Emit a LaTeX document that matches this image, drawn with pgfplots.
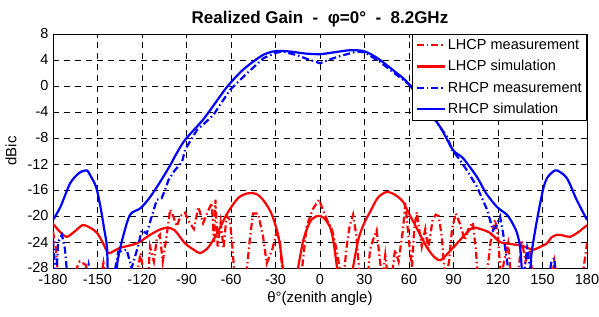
\documentclass[border=0pt]{standalone}
\usepackage{pgfplots}
\pgfplotsset{compat=1.18}
\usepackage{fontspec}
\setmainfont{Liberation Sans}
\begin{document}
\begin{tikzpicture}
\tikzset{dashdotm/.style={dash pattern=on 7pt off 3pt on 1.5pt off 3pt}}
\path[use as bounding box] (-53pt,-48pt) rectangle (546pt,268pt);
\begin{axis}[
  at={(0pt,0pt)}, anchor=south west,
  scale only axis, width=534pt, height=234pt,
  xmin=-180, xmax=180, ymin=-28, ymax=8,
  xtick={-180,-150,...,180}, ytick={-28,-24,...,8},
  /pgf/number format/assume math mode=true,
  tick label style={font=\fontsize{14.5}{16}\selectfont},
  xticklabel style={yshift=-3pt},
  yticklabel style={xshift=-1pt},
  tick align=inside, tick style={black, line width=0.5pt}, major tick length=4pt,
  grid=major, grid style={black, line width=0.6pt, dash pattern=on 6pt off 5pt},
  axis line style={black, line width=0.6pt},
  title={\bfseries Realized Gain\ \ -\ \ φ=0°\ \ -\ \ 8.2GHz},
  title style={font=\fontsize{17}{19}\selectfont, yshift=-3pt},
  xlabel={θ°(zenith angle)}, ylabel={dBic},
  xlabel style={font=\fontsize{15}{17}\selectfont, yshift=0pt},
  ylabel style={font=\fontsize{15}{17}\selectfont, yshift=4pt},
  legend style={at={(1,1)}, anchor=north east, draw=black, line width=0.6pt,
    font=\fontsize{14.5}{16}\selectfont, row sep=5.5pt, inner sep=3pt},
  legend cell align=left,
  legend image code/.code={\draw[#1, line width=2.2pt] (0pt,0pt) -- (28pt,0pt);},
]
% LHCP measurement
\addplot[red, line width=2.2pt, dashdotm] coordinates {
(-180,-22.4) (-178,-25) (-176.5,-30) (-168,-30) (-162,-27) (-158,-27.5) (-155,-30) (-148,-30) (-146,-27.2) (-144,-30)
(-124,-30) (-121,-25.7) (-118,-30) (-116,-30) (-114.6,-24.7) (-112,-27) (-110,-23.5) (-108,-22.9) (-106,-27) (-104,-24)
(-101,-19) (-99,-20) (-96.6,-21.6) (-94,-20) (-91,-19.5) (-88,-21) (-85,-22) (-82,-18.6) (-78.8,-21.1) (-76,-19.5)
(-73,-18) (-71.5,-24) (-70.5,-17.5) (-69,-24.7) (-67,-21) (-65,-25) (-63,-20) (-60.7,-20.6) (-59,-25) (-57.3,-30)
(-50,-30) (-47.5,-24) (-45.2,-19.6) (-41.8,-19.6) (-38.5,-23) (-35.9,-27.3) (-32,-25) (-29.2,-22.4) (-27,-24) (-24.9,-30)
(-13,-30) (-9,-21.6) (-5,-19) (-2.2,-18) (-0.5,-17.5) (1,-18.5) (3,-19.6) (5.5,-21) (8,-22) (11.2,-25.2) (14.6,-30)
(16.5,-28) (18,-24.7) (20,-21.5) (22.3,-19.8) (24.5,-23) (27,-30) (32,-30) (33.7,-25.2) (35.7,-23.7) (38.2,-22.2)
(40,-26) (42,-30) (44,-26) (46,-30) (48,-30) (50.6,-25.2) (53,-27) (56,-22) (57.5,-18) (60,-24) (62,-28) (63.5,-22)
(65.2,-19.4) (68.6,-24.7) (71,-22) (73,-25) (76,-20.5) (78,-19.8) (80,-20) (82,-23) (84.5,-30) (87,-27) (89,-22)
(91.5,-19.6) (94,-21) (97.7,-23.7) (100,-22) (103,-21) (105,-25) (106.6,-30) (112,-30) (115,-24) (118,-20.6) (120,-23)
(122,-30) (124,-27) (126.8,-24.2) (129,-30) (133,-30) (136,-23.7) (138.5,-27) (141.6,-25.2) (143.5,-30) (156,-30)
(158,-27) (160,-30) (176.5,-30) (180,-24.2)
};
\addlegendentry{LHCP measurement}
% LHCP simulation
\addplot[red, line width=2.2pt, smooth] coordinates {
(-180,-21.2) (-175,-22.5) (-170.6,-23.2) (-165,-22.3) (-160,-21.4) (-155,-21.8) (-150.3,-22.6) (-146,-24.3) (-142.9,-25.7)
(-139,-25.4) (-134.8,-24.9) (-123.4,-24.2) (-114.6,-22.9) (-108,-22.1) (-103,-21.8) (-98,-22.2) (-91,-24.2) (-85,-25.2)
(-80.9,-25.7) (-76,-25) (-72,-23.7) (-67,-21.6) (-62,-19.4) (-55,-17.2) (-48.5,-16.5) (-43,-16.6) (-38.4,-17.5) (-33,-19.5)
(-29,-22.2) (-27,-24.5) (-25,-28) (-24,-30) (-16,-30) (-14.8,-28) (-11,-23.5) (-6.7,-20.9) (-3,-20.1) (0,-20) (3,-20.4)
(6.7,-21.7) (9,-23.8) (11.5,-28) (12.5,-30) (21,-30) (22.2,-28) (26,-23.5) (30,-21) (33.7,-19.4) (39,-17.2) (45,-16.3)
(51,-16.8) (56,-17.8) (58.6,-19) (62,-20.5) (66,-22.2) (72,-24.8) (77,-26.3) (81,-26.8) (86,-25.8) (92.4,-24.2) (98,-22.8)
(103,-21.8) (108,-22) (114.6,-22.6) (121.4,-24) (128,-24.3) (134.8,-24.5) (139,-24.8) (143.6,-25.2) (148,-24.8) (153,-24.2)
(156,-23.3) (159.8,-22.9) (164,-23) (168.5,-23.2) (174,-22.5) (180,-21.4)
};
\addlegendentry{LHCP simulation}
% RHCP measurement
\addplot[blue, line width=2.2pt, dashdotm] coordinates {
(-180,-23.5) (-178,-30) (-176.5,-24) (-174,-22.9) (-172,-25) (-170,-30) (-158,-30) (-156,-27.5) (-154,-30) (-142,-30)
(-138,-28) (-136,-25.5) (-130.3,-25.2) (-127,-28) (-122.7,-24.7) (-120.2,-22.2) (-116.8,-22.7) (-113.5,-20.1) (-110,-17.5)
(-106.8,-17.3) (-104.5,-16) (-102.2,-14.5) (-98,-13) (-93,-11.7) (-91,-9.8) (-83,-6.8) (-72,-4.5) (-60.7,-0.6) (-49,2)
(-38,4.3) (-30,5.1) (-25,5.3) (-15,4.7) (-8,4.1) (0,3.5) (8,4.2) (15,4.7) (25,5.3) (30,5.2) (40.5,3.7) (50,2) (60.7,0.15)
(72,-3.5) (85.6,-7.8) (89,-9.8) (94.4,-11.4) (100,-13.3) (105.8,-15.5) (112.6,-19) (116.6,-22.2) (119,-21.5) (121.4,-20.1)
(123.4,-22.6) (128,-30) (137,-30) (139.6,-25) (141,-27) (143,-30) (154,-30) (156,-27) (158,-26.5) (159,-30) (180,-30)
};
\addlegendentry{RHCP measurement}
% RHCP simulation
\addplot[blue, line width=2.2pt, smooth] coordinates {
(-180,-20.6) (-175,-18.6) (-168.5,-15) (-163,-13.5) (-160,-13.1) (-157,-13.0) (-155,-13.7) (-151,-15.5) (-148,-18.6)
(-145.5,-22) (-143.6,-24.8) (-142.5,-30) (-137.5,-30) (-136.5,-27) (-132.8,-23.2) (-128,-19.8) (-121,-18.8) (-114.6,-17.1)
(-107.9,-14.8) (-101,-12.2) (-97,-10.5) (-91,-8.3) (-80,-5.5) (-74,-3.7) (-62.7,-0.15) (-51.9,2.5) (-40.4,4.5) (-35,5.1)
(-29,5.4) (-20,5.3) (-10,5.0) (0,4.9) (10,5.2) (20,5.5) (29,5.4) (35,4.8) (40.5,4.0) (50,2.3) (58.7,0.6) (70,-2.8)
(81,-6.3) (89.7,-9.85) (96.4,-11.1) (105.8,-14) (112,-16.5) (119.3,-18.6) (126,-19.8) (129.5,-21) (132.8,-22.6) (135,-25)
(137,-30) (141.5,-30) (142.5,-26) (146,-21) (150.3,-16) (153,-14.2) (157,-13.2) (160,-13.0) (166.5,-14.2) (173,-17.5) (180,-20.6)
};
\addlegendentry{RHCP simulation}
\end{axis}
\end{tikzpicture}
\end{document}
